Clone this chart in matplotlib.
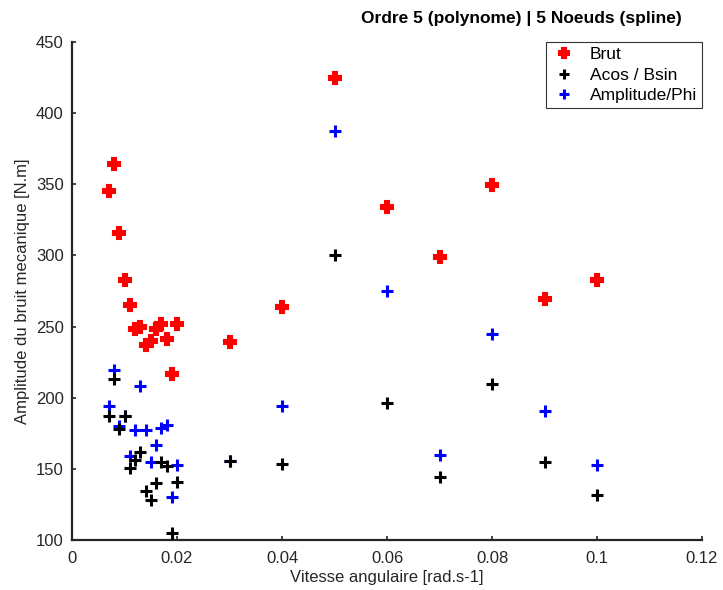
import numpy as np
import matplotlib.pyplot as plt

plt.rcParams["font.family"] = ["Liberation Sans", "DejaVu Sans"]

# vitesses angulaires [rad.s-1]
vitesse = [0.007, 0.008, 0.009, 0.010, 0.011, 0.012, 0.013, 0.014, 0.015, 0.016,
           0.017, 0.018, 0.019, 0.020, 0.03, 0.04, 0.05, 0.06, 0.07, 0.08, 0.09, 0.1]

brut = [345, 364, 316, 283, 265, 248, 250, 237, 240, 248,
        252, 241, 217, 252, 239, 264, 424.5, 334, 299, 349.5, 269.5, 283]

acos_bsin = [187.5, 213, 178, 187.5, 150.5, 156, 162, 134.5, 128, 140,
             154.5, 152, 105, 141, 155.5, 153.5, 300.5, 196.5, 144.5, 209.5, 154.5, 131.5]

amp_phi = [194, 219.5, 180, 187.5, 159, 177, 208, 177, 155, 167,
           178.5, 181, 130, 153, 155.5, 194, 387.5, 275, 159.5, 244.5, 190.5, 152.5]

fig = plt.figure(figsize=(7.23, 5.9), dpi=100)
ax = fig.add_axes([0.0996, 0.0847, 0.8714, 0.8441])

ax.plot(vitesse, brut, "P", color="red", markersize=9, markeredgewidth=1.5,
        markeredgecolor="red", linestyle="none", label="Brut", zorder=3)
ax.plot(vitesse, amp_phi, "+", color="blue", markersize=9, markeredgewidth=2.2,
        linestyle="none", label="Amplitude/Phi", zorder=3)
ax.plot(vitesse, acos_bsin, "+", color="black", markersize=9, markeredgewidth=2.2,
        linestyle="none", label="Acos / Bsin", zorder=4)

ax.set_xlim(0, 0.12)
ax.set_ylim(100, 450)
ax.set_xticks([0, 0.02, 0.04, 0.06, 0.08, 0.1, 0.12])
ax.set_xticklabels(["0", "0.02", "0.04", "0.06", "0.08", "0.1", "0.12"])
ax.set_yticks(np.arange(100, 451, 50))

for side in ("top", "right"):
    ax.spines[side].set_visible(False)
for side in ("left", "bottom"):
    ax.spines[side].set_linewidth(1.6)
    ax.spines[side].set_color("#262626")
ax.tick_params(labelsize=12, length=3, width=1.2, direction="in", colors="#262626")
ax.tick_params(axis="x", pad=8)
ax.tick_params(axis="y", pad=6)

ax.set_xlabel("Vitesse angulaire [rad.s-1]", fontsize=12, color="#262626", labelpad=3)
ax.set_ylabel("Amplitude du bruit mecanique [N.m]", fontsize=12, color="#262626", labelpad=4)

fig.text(0.943, 0.968, "Ordre 5 (polynome) | 5 Noeuds (spline)", ha="right", va="center",
         fontsize=12.5, fontweight="bold")

# legend in the order Brut, Acos/Bsin, Amplitude/Phi
handles, labels = ax.get_legend_handles_labels()
order = [0, 2, 1]
leg = ax.legend([handles[i] for i in order], [labels[i] for i in order],
                loc="upper right", bbox_to_anchor=(1.0, 1.0), fontsize=12.5,
                frameon=True, fancybox=False, borderpad=0.3, labelspacing=0.3,
                handletextpad=0.8, handlelength=1.4, borderaxespad=0.0,
                markerscale=0.8)
leg.get_frame().set_edgecolor("black")
leg.get_frame().set_linewidth(0.8)

fig.savefig("out.png", dpi=100)
